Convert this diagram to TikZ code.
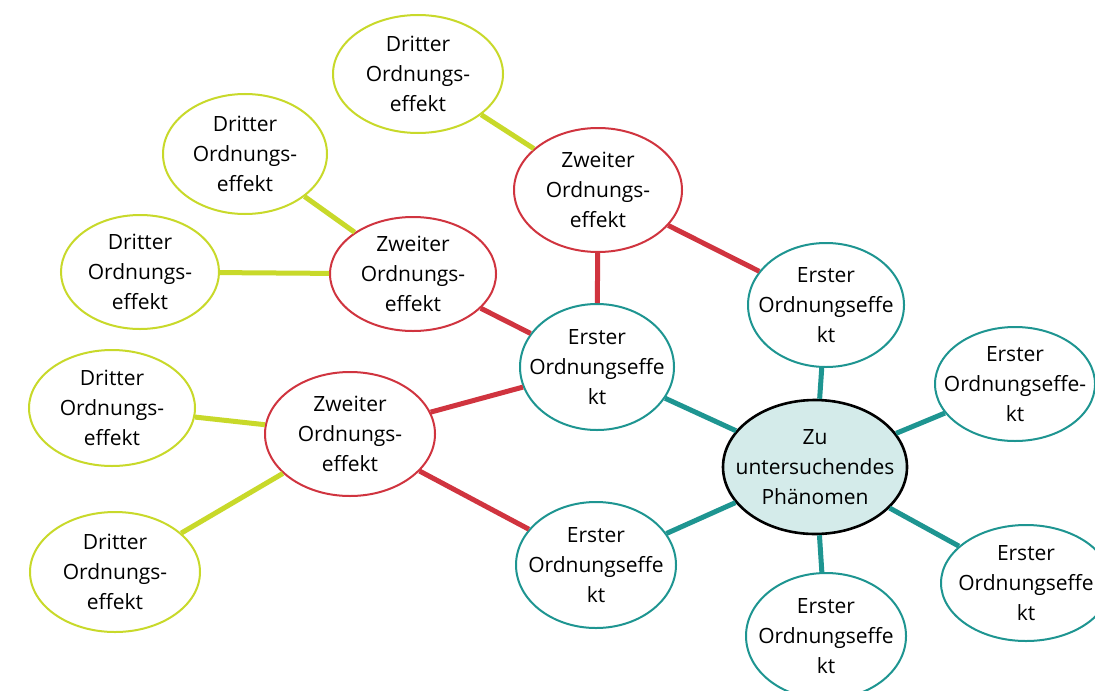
\documentclass[tikz,border=0pt]{standalone}
\usepackage{fontspec}
\setmainfont{Open Sans}
\usetikzlibrary{shapes.geometric}
\definecolor{tealc}{HTML}{1E9591}
\definecolor{redc}{HTML}{D0343F}
\definecolor{limec}{HTML}{C8D92A}
\definecolor{corefill}{HTML}{D4EBEA}
\tikzset{
  effect/.style={ellipse, draw, line width=1pt, fill=white, inner sep=0pt,
    label={[align=center, font=\fontsize{10.5}{15}\selectfont]center:#1}},
  first/.style={effect=#1, draw=tealc},
  second/.style={effect=#1, draw=redc},
  third/.style={effect=#1, draw=limec},
  core/.style={effect=#1, draw=black, line width=1.3pt, fill=corefill, minimum width=92pt, minimum height=67pt},
  tealline/.style={tealc, line width=2.5pt},
  redline/.style={redc, line width=2.5pt},
  limeline/.style={limec, line width=2.5pt}
}
\begin{document}
\begin{tikzpicture}[x=0.5pt, y=-0.5pt]
    \clip (0,0) rectangle (1095,690);
    \useasboundingbox (0,0) rectangle (1095,690);
    \fill[white] (0,0) rectangle (1095,690);
    % Phaenomen
    \node[core={Zu\\untersuchendes\\Phänomen}] (core) at (815,467) {};
    % Erste Ordnung
    \node[first={Erster\\Ordnungseffe\\kt}, minimum width=78pt, minimum height=62pt] (e1) at (826,305) {};
    \node[first={Erster\\Ordnungseffe\\kt}, minimum width=77pt, minimum height=63pt] (e2) at (597,367) {};
    \node[first={Erster\\Ordnungseffe\\kt}, minimum width=80pt, minimum height=63pt] (e3) at (596,565) {};
    \node[first={Erster\\Ordnungseffe\\kt}, minimum width=80pt, minimum height=63pt] (e4) at (826,636) {};
    \node[first={Erster\\Ordnungseffe-\\kt}, minimum width=80pt, minimum height=57pt] (e5) at (1015,384) {};
    \node[first={Erster\\Ordnungseffe\\kt}, minimum width=85pt, minimum height=58pt] (e6) at (1026,583) {};
    % Zweite Ordnung
    \node[second={Zweiter\\Ordnungs-\\effekt}, minimum width=84pt, minimum height=62pt] (z1) at (598,190) {};
    \node[second={Zweiter\\Ordnungs-\\effekt}, minimum width=83pt, minimum height=57pt] (z2) at (413,274) {};
    \node[second={Zweiter\\Ordnungs-\\effekt}, minimum width=85pt, minimum height=62pt] (z3) at (350,434) {};
    % Dritte Ordnung
    \node[third={Dritter\\Ordnungs-\\effekt}, minimum width=85pt, minimum height=59pt] (d1) at (418,74) {};
    \node[third={Dritter\\Ordnungs-\\effekt}, minimum width=82pt, minimum height=60pt] (d2) at (245,154) {};
    \node[third={Dritter\\Ordnungs-\\effekt}, minimum width=79pt, minimum height=57pt] (d3) at (140,272) {};
    \node[third={Dritter\\Ordnungs-\\effekt}, minimum width=83pt, minimum height=58pt] (d4) at (112,408) {};
    \node[third={Dritter\\Ordnungs-\\effekt}, minimum width=85pt, minimum height=60pt] (d5) at (115,572) {};
    % Verbindungen
    \foreach \e in {e1,e2,e3,e4,e5,e6}
        \draw[tealline] (core) -- (\e);
    \foreach \a/\b in {e2/z1, e1/z1, e2/z2, e2/z3, e3/z3}
        \draw[redline] (\a) -- (\b);
    \foreach \a/\b in {z1/d1, z2/d2, z2/d3, z3/d4, z3/d5}
        \draw[limeline] (\a) -- (\b);
\end{tikzpicture}
\end{document}
